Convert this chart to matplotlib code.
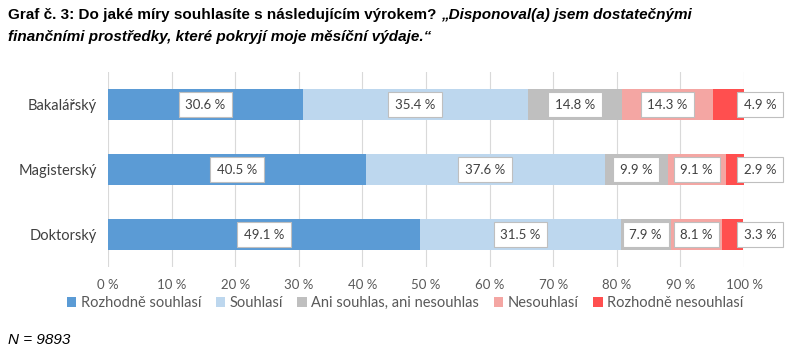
import numpy as np
import matplotlib.pyplot as plt

categories = ['Bakalářský', 'Magisterský', 'Doktorský']
series_names = ['Rozhodně souhlasí', 'Souhlasí', 'Ani souhlas, ani nesouhlas',
                'Nesouhlasí', 'Rozhodně nesouhlasí']
rozhodne_souhlasi = [30.6, 40.5, 49.1]
souhlasi = [35.4, 37.6, 31.5]
ani = [14.8, 9.9, 7.9]
nesouhlasi = [14.3, 9.1, 8.1]
rozhodne_nesouhlasi = [4.9, 2.9, 3.3]
colors = ['#5B9BD5', '#BDD7EE', '#BFBFBF', '#F4A6A3', '#FF4F4F']

series = [rozhodne_souhlasi, souhlasi, ani, nesouhlasi, rozhodne_nesouhlasi]

plt.rcParams['font.family'] = ['Lato', 'DejaVu Sans']

fig = plt.figure(figsize=(7.99, 3.6), dpi=100)
ax = fig.add_axes([108 / 799, 1 - 267 / 360, 636 / 799, 195 / 360])

y = np.arange(len(categories))
left = np.zeros(len(categories))
for i, (vals, name, col) in enumerate(zip(series, series_names, colors)):
    vals = np.array(vals)
    ax.barh(y, vals, left=left, height=0.49, color=col, label=name, zorder=2)
    for j, v in enumerate(vals):
        if i == len(series) - 1:
            xpos, ha = 100, 'left'
        else:
            xpos, ha = left[j] + v / 2, 'center'
        ax.text(xpos, y[j], f'{v:.1f} %', ha=ha, va='center', fontsize=9.5,
                color='#404040', zorder=3,
                bbox=dict(boxstyle='square,pad=0.5', fc='white', ec='#BFBFBF', lw=0.8))
    left += vals

ax.set_xlim(0, 100)
ax.set_ylim(2.5, -0.5)
ax.set_yticks(y)
ax.set_yticklabels(categories, fontsize=10.5, color='#404040')
ax.set_xticks(np.arange(0, 101, 10))
ax.set_xticklabels([f'{t} %' for t in range(0, 101, 10)], fontsize=9.5, color='#595959')
ax.tick_params(length=0, pad=8)
ax.tick_params(axis='x', pad=8.5)
ax.grid(axis='x', color='#D9D9D9', lw=0.8, zorder=0)
for s in ax.spines.values():
    s.set_visible(False)

fig.legend(loc='center', bbox_to_anchor=(405 / 799, 1 - 303 / 360), ncol=5, frameon=False,
           fontsize=10.5, handlelength=0.65, handleheight=0.65, handletextpad=0.3,
           columnspacing=1.0, labelcolor='#595959')

title1 = fig.text(8 / 799, 1 - 15 / 360, 'Graf č. 3: Do jaké míry souhlasíte s následujícím výrokem? ',
                  fontsize=11, fontweight='bold', family='Liberation Sans', va='center')
fig.canvas.draw()
r = title1.get_window_extent()
fig.text(r.x1 / 799, 1 - 15 / 360, '„Disponoval(a) jsem dostatečnými',
         fontsize=11, fontweight='bold', style='italic', family='Liberation Sans', va='center')
fig.text(8 / 799, 1 - 37 / 360, 'finančními prostředky, které pokryjí moje měsíční výdaje.“',
         fontsize=11, fontweight='bold', style='italic', family='Liberation Sans', va='center')
fig.text(8 / 799, 1 - 340 / 360, 'N = 9893', fontsize=11, style='italic',
         family='Liberation Sans', va='center')

plt.savefig('out.png', dpi=100)
